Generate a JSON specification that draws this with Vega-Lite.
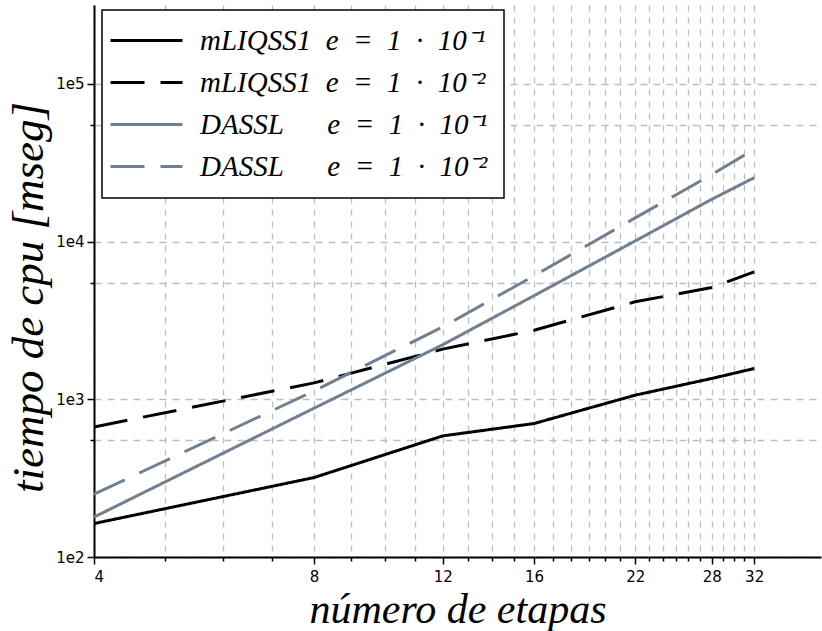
{
  "$schema": "https://vega.github.io/schema/vega-lite/v6.json",
  "width": 727,
  "height": 552,
  "autosize": {"type": "none"},
  "padding": {"left": 94, "top": 5, "right": 1, "bottom": 74},
  "background": "white",
  "config": {
    "view": {"stroke": null},
    "legend": {"strokeWidth": 1.5}
  },
  "data": {
    "values": [
      {"etapas": 4, "cpu": 163, "serie": "mLIQSS1\u2002e\u2002=\u20021\u2002·\u200210⁻¹"},
      {"etapas": 8, "cpu": 319, "serie": "mLIQSS1\u2002e\u2002=\u20021\u2002·\u200210⁻¹"},
      {"etapas": 12, "cpu": 586, "serie": "mLIQSS1\u2002e\u2002=\u20021\u2002·\u200210⁻¹"},
      {"etapas": 16, "cpu": 702, "serie": "mLIQSS1\u2002e\u2002=\u20021\u2002·\u200210⁻¹"},
      {"etapas": 22, "cpu": 1062, "serie": "mLIQSS1\u2002e\u2002=\u20021\u2002·\u200210⁻¹"},
      {"etapas": 28, "cpu": 1355, "serie": "mLIQSS1\u2002e\u2002=\u20021\u2002·\u200210⁻¹"},
      {"etapas": 32, "cpu": 1567, "serie": "mLIQSS1\u2002e\u2002=\u20021\u2002·\u200210⁻¹"},
      {"etapas": 4, "cpu": 668, "serie": "mLIQSS1\u2002e\u2002=\u20021\u2002·\u200210⁻²"},
      {"etapas": 8, "cpu": 1271, "serie": "mLIQSS1\u2002e\u2002=\u20021\u2002·\u200210⁻²"},
      {"etapas": 12, "cpu": 2080, "serie": "mLIQSS1\u2002e\u2002=\u20021\u2002·\u200210⁻²"},
      {"etapas": 16, "cpu": 2740, "serie": "mLIQSS1\u2002e\u2002=\u20021\u2002·\u200210⁻²"},
      {"etapas": 22, "cpu": 4150, "serie": "mLIQSS1\u2002e\u2002=\u20021\u2002·\u200210⁻²"},
      {"etapas": 28, "cpu": 5117, "serie": "mLIQSS1\u2002e\u2002=\u20021\u2002·\u200210⁻²"},
      {"etapas": 32, "cpu": 6430, "serie": "mLIQSS1\u2002e\u2002=\u20021\u2002·\u200210⁻²"},
      {"etapas": 4, "cpu": 179, "serie": "DASSL\u2003\u2002e\u2002=\u20021\u2002·\u200210⁻¹"},
      {"etapas": 8, "cpu": 878, "serie": "DASSL\u2003\u2002e\u2002=\u20021\u2002·\u200210⁻¹"},
      {"etapas": 12, "cpu": 2218, "serie": "DASSL\u2003\u2002e\u2002=\u20021\u2002·\u200210⁻¹"},
      {"etapas": 16, "cpu": 4540, "serie": "DASSL\u2003\u2002e\u2002=\u20021\u2002·\u200210⁻¹"},
      {"etapas": 22, "cpu": 10090, "serie": "DASSL\u2003\u2002e\u2002=\u20021\u2002·\u200210⁻¹"},
      {"etapas": 28, "cpu": 18540, "serie": "DASSL\u2003\u2002e\u2002=\u20021\u2002·\u200210⁻¹"},
      {"etapas": 32, "cpu": 25400, "serie": "DASSL\u2003\u2002e\u2002=\u20021\u2002·\u200210⁻¹"},
      {"etapas": 4, "cpu": 250, "serie": "DASSL\u2003\u2002e\u2002=\u20021\u2002·\u200210⁻²"},
      {"etapas": 8, "cpu": 1130, "serie": "DASSL\u2003\u2002e\u2002=\u20021\u2002·\u200210⁻²"},
      {"etapas": 12, "cpu": 2878, "serie": "DASSL\u2003\u2002e\u2002=\u20021\u2002·\u200210⁻²"},
      {"etapas": 16, "cpu": 6070, "serie": "DASSL\u2003\u2002e\u2002=\u20021\u2002·\u200210⁻²"},
      {"etapas": 22, "cpu": 14130, "serie": "DASSL\u2003\u2002e\u2002=\u20021\u2002·\u200210⁻²"},
      {"etapas": 28, "cpu": 26600, "serie": "DASSL\u2003\u2002e\u2002=\u20021\u2002·\u200210⁻²"},
      {"etapas": 32, "cpu": 38460, "serie": "DASSL\u2003\u2002e\u2002=\u20021\u2002·\u200210⁻²"}
    ]
  },
  "mark": {"type": "line", "strokeWidth": 3, "clip": true},
  "encoding": {
    "x": {
      "field": "etapas",
      "type": "quantitative",
      "scale": {"type": "log", "domain": [4, 39.5], "nice": false},
      "axis": {
        "values": [4, 4.5, 5, 5.5, 6, 6.5, 7, 7.5, 8, 8.5, 9, 9.5, 10, 10.5, 11, 11.5, 12, 12.5, 13, 13.5, 14, 14.5, 15, 15.5, 16, 16.5, 17, 17.5, 18, 18.5, 19, 19.5, 20, 20.5, 21, 21.5, 22, 22.5, 23, 23.5, 24, 24.5, 25, 25.5, 26, 26.5, 27, 27.5, 28, 28.5, 29, 29.5, 30, 30.5, 31, 31.5, 32],
        "format": "d",
        "labelExpr": "indexof([4, 8, 12, 16, 22, 28, 32], datum.value) >= 0 ? datum.label : ''",
        "labelOverlap": false,
        "labelFont": "DejaVu Sans",
        "labelFontSize": 15,
        "labelColor": "black",
        "labelPadding": 5,
        "tickSize": {"condition": {"test": "indexof([4, 8, 12, 16, 22, 28, 32], datum.value) >= 0", "value": 7}, "value": 4},
        "tickColor": "black",
        "tickWidth": 1.5,
        "domainColor": "black",
        "domainWidth": 2,
        "grid": true,
        "gridColor": "#bdbdbd",
        "gridDash": [6, 6],
        "gridWidth": 1.3,
        "title": "número de etapas",
        "titleFont": "Liberation Serif",
        "titleFontStyle": "italic",
        "titleFontWeight": "normal",
        "titleFontSize": 42,
        "titleColor": "black",
        "titleBaseline": "alphabetic",
        "titleY": 65
      }
    },
    "y": {
      "field": "cpu",
      "type": "quantitative",
      "scale": {"type": "log", "domain": [100, 316228], "nice": false},
      "axis": {
        "values": [100, 550, 1000, 5500, 10000, 55000, 100000],
        "labelExpr": "datum.value == 100 ? '1e2' : datum.value == 1000 ? '1e3' : datum.value == 10000 ? '1e4' : datum.value == 100000 ? '1e5' : ''",
        "labelOverlap": false,
        "labelFont": "DejaVu Sans",
        "labelFontSize": 15,
        "labelColor": "black",
        "labelPadding": 3,
        "tickSize": {"condition": {"test": "indexof([100, 1000, 10000, 100000], datum.value) >= 0", "value": 7}, "value": 4},
        "tickColor": "black",
        "tickWidth": 1.5,
        "domainColor": "black",
        "domainWidth": 2,
        "grid": true,
        "gridColor": "#bdbdbd",
        "gridDash": [7, 6],
        "gridWidth": 1.3,
        "title": "tiempo de cpu [mseg]",
        "titleFont": "Liberation Serif",
        "titleFontStyle": "italic",
        "titleFontWeight": "normal",
        "titleFontSize": 45,
        "titleColor": "black",
        "titleAngle": 270,
        "titleAlign": "center",
        "titleBaseline": "alphabetic",
        "titleX": -52,
        "titleY": 292
      }
    },
    "color": {
      "field": "serie",
      "type": "nominal",
      "sort": null,
      "scale": {
        "domain": ["mLIQSS1\u2002e\u2002=\u20021\u2002·\u200210⁻¹", "mLIQSS1\u2002e\u2002=\u20021\u2002·\u200210⁻²", "DASSL\u2003\u2002e\u2002=\u20021\u2002·\u200210⁻¹", "DASSL\u2003\u2002e\u2002=\u20021\u2002·\u200210⁻²"],
        "range": ["#000000", "#000000", "#708090", "#708090"]
      },
      "legend": {
        "title": null,
        "orient": "none",
        "legendX": 8,
        "legendY": 5,
        "symbolType": "M-3.6,0H3.6",
        "symbolSize": 400,
        "symbolStrokeWidth": 3,
        "symbolOffset": 14,
        "labelFont": "Liberation Serif",
        "labelFontStyle": "italic",
        "labelFontSize": 29,
        "labelColor": "black",
        "labelOffset": 39,
        "labelLimit": 0,
        "rowPadding": 12,
        "padding": 16,
        "strokeColor": "black",
        "fillColor": "white"
      }
    },
    "strokeDash": {
      "field": "serie",
      "type": "nominal",
      "sort": null,
      "scale": {
        "domain": ["mLIQSS1\u2002e\u2002=\u20021\u2002·\u200210⁻¹", "mLIQSS1\u2002e\u2002=\u20021\u2002·\u200210⁻²", "DASSL\u2003\u2002e\u2002=\u20021\u2002·\u200210⁻¹", "DASSL\u2003\u2002e\u2002=\u20021\u2002·\u200210⁻²"],
        "range": [[1, 0], [34, 16], [1, 0], [34, 16]]
      },
      "legend": {
        "title": null,
        "orient": "none",
        "legendX": 8,
        "legendY": 5,
        "symbolType": "M-3.6,0H3.6",
        "symbolSize": 400,
        "symbolStrokeWidth": 3,
        "symbolOffset": 14,
        "labelFont": "Liberation Serif",
        "labelFontStyle": "italic",
        "labelFontSize": 29,
        "labelColor": "black",
        "labelOffset": 39,
        "labelLimit": 0,
        "rowPadding": 12,
        "padding": 16,
        "strokeColor": "black",
        "fillColor": "white"
      }
    }
  }
}
